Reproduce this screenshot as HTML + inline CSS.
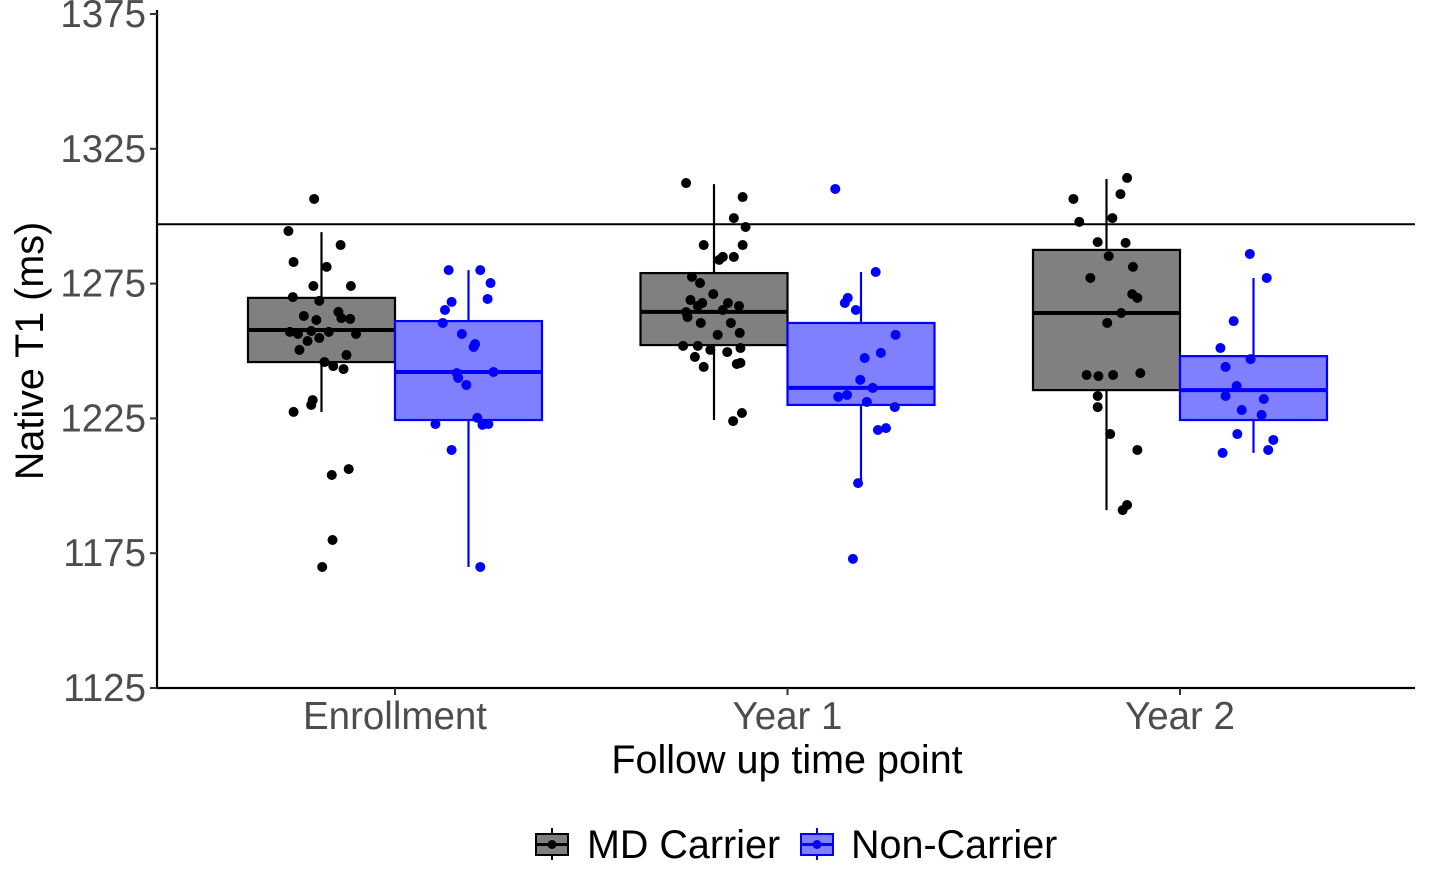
<!DOCTYPE html>
<html><head><meta charset="utf-8">
<style>
html,body{margin:0;padding:0;background:#fff;}
svg{display:block;font-family:"Liberation Sans",Arial,sans-serif;}
</style></head>
<body>
<svg id="chart" width="1430" height="892" viewBox="0 0 1430 892" xmlns="http://www.w3.org/2000/svg"></svg>
<script>
const categories = ["Enrollment","Year 1","Year 2"];
const groups = ["MD Carrier","Non-Carrier"];
const yTicks = [1125,1175,1225,1275,1325,1375];
const refLine = 1297;
// box stats: [lowWhisker, q1, median, q3, highWhisker]
const mdStats = [[1227.4,1245.9,1257.8,1269.7,1294.1],[1224.4,1252.2,1264.5,1278.9,1311.9],[1191,1235.5,1264.1,1287.5,1313.8]];
const ncStats = [[1169.9,1224.4,1242.2,1261.1,1280],[1201,1230,1236.3,1260.4,1279.3],[1212.2,1224.4,1235.5,1248.1,1277.1]];
const mdVals = [
 [1306.4,1294.5,1289.3,1283,1281.2,1274.1,1274.1,1270,1268.6,1264.5,1263,1261.5,1262.2,1261.9,1257.1,1256.3,1257.4,1257.1,1256.3,1253.7,1254.8,1250.4,1248.5,1244.4,1243.3,1245.9,1231.8,1227.4,1230,1206.2,1204,1179.9,1169.9],
 [1312.3,1307.1,1299.3,1296,1289.3,1289.3,1284.9,1284.9,1283.8,1277.5,1275.2,1271.1,1268.9,1266.7,1267.8,1267.8,1266.7,1264.4,1265.2,1260.4,1262.6,1260.4,1256,1256.7,1251.9,1251.9,1251.1,1250.4,1247.8,1249.6,1245.6,1245.2,1244.1,1227,1224],
 [1314.2,1306.4,1308.2,1297.9,1299.3,1290.4,1290.1,1285.2,1277.1,1281.2,1271.1,1269.7,1264.1,1260.4,1241.1,1240.7,1241.1,1241.8,1233.3,1229.2,1219.2,1213.3,1192.9,1191]
];
const mdJit = [
 [-0.1,-0.45,0.26,-0.38,0.07,0.4,-0.11,-0.39,-0.03,0.23,-0.24,-0.07,0.27,0.39,-0.43,-0.32,-0.14,0.1,0.47,-0.19,-0.03,-0.3,0.34,0.16,0.3,0.04,-0.12,-0.38,-0.14,0.37,0.14,0.15,0.01],
 [-0.38,0.39,0.27,0.43,-0.14,0.39,0.27,0.12,0.07,-0.3,-0.19,-0.01,-0.32,0.34,0.19,-0.16,-0.22,-0.38,0.12,0.23,-0.36,-0.18,0.05,0.35,-0.42,-0.22,0.36,-0.05,-0.26,0.18,0.36,0.31,-0.14,0.38,0.26],
 [0.28,-0.45,0.19,-0.37,0.08,-0.12,0.26,0.03,-0.22,0.36,0.35,0.42,0.2,0.01,-0.27,-0.11,0.09,0.46,-0.12,-0.12,0.05,0.42,0.28,0.22]
];
const ncVals = [
 [1280,1280,1275.2,1268.2,1269.3,1265.2,1260.4,1256.3,1251.5,1252.6,1241.8,1242.2,1240,1237.4,1225.2,1222.9,1222.6,1222.9,1213.3,1169.9],
 [1310.1,1279.3,1269.7,1267.8,1265.2,1256,1249.3,1247.4,1239.3,1236.3,1233.7,1233,1231.1,1229.2,1220.7,1221.4,1201,1172.9],
 [1286,1277.1,1261.1,1251.1,1247,1244.1,1237,1233.3,1232.2,1228.1,1226.3,1219.2,1217,1212.2,1213.3]
];
const ncJit = [
 [-0.27,0.16,0.3,-0.23,0.26,-0.32,-0.35,-0.09,0.07,0.09,-0.16,0.34,-0.14,-0.03,0.12,0.27,0.19,-0.45,-0.23,0.16],
 [-0.35,0.2,-0.18,-0.22,-0.07,0.47,0.27,0.05,-0.01,0.16,-0.19,-0.31,0.08,0.46,0.23,0.34,-0.04,-0.11],
 [-0.05,0.18,-0.27,-0.45,-0.04,-0.38,-0.23,-0.38,0.14,-0.16,0.11,-0.22,0.27,-0.42,0.2]
];

const svg = document.getElementById('chart');
const NS = "http://www.w3.org/2000/svg";
const plotL = 157, plotR = 1415, plotT = 14, plotB = 688;
const yMin = 1125, yMax = 1375;
function yS(v){ return plotB - (v - yMin) / (yMax - yMin) * (plotB - plotT); }
function xC(i){ return 395 + i * 392.5; }
const boxW = 147;
function mk(tag, attrs, parent){
  const e = document.createElementNS(NS, tag);
  for (const k in attrs) e.setAttribute(k, attrs[k]);
  (parent || svg).appendChild(e);
  return e;
}

const rl = mk('line', {x1: plotL, x2: plotR, y1: yS(refLine), y2: yS(refLine), stroke: '#000', 'stroke-width': 2});



function drawBox(stats, cx, fill, stroke, name){
  const g = mk('g', {});
  
  
  const [lo, q1, med, q3, hi] = stats;
  mk('line', {x1: cx, x2: cx, y1: yS(hi), y2: yS(q3), stroke: stroke, 'stroke-width': 2.2}, g);
  mk('line', {x1: cx, x2: cx, y1: yS(q1), y2: yS(lo), stroke: stroke, 'stroke-width': 2.2}, g);
  mk('rect', {x: cx - boxW/2, y: yS(q3), width: boxW, height: yS(q1) - yS(q3), fill: fill, stroke: stroke, 'stroke-width': 2.2}, g);
  mk('line', {x1: cx - boxW/2, x2: cx + boxW/2, y1: yS(med), y2: yS(med), stroke: stroke, 'stroke-width': 4}, g);
}
function drawPts(vals, jit, cx, color, name){
  const g = mk('g', {});
  
  
  vals.forEach((v, k) => {
    const c = mk('circle', {cx: cx + jit[k] * boxW / 2, cy: yS(v), r: 5, fill: color}, g);
    
    
  });
}
categories.forEach((c, i) => {
  const mx = xC(i) - boxW/2, nx = xC(i) + boxW/2;
  drawBox(mdStats[i], mx, '#808080', '#000', 'box-md-carrier-' + i);
  drawBox(ncStats[i], nx, '#8080ff', '#0000ff', 'box-non-carrier-' + i);
  drawPts(mdVals[i], mdJit[i], mx, '#000', 'points-md-carrier-' + i);
  drawPts(ncVals[i], ncJit[i], nx, '#0000ff', 'points-non-carrier-' + i);
});

const ya = mk('line', {x1: plotL, x2: plotL, y1: plotT - 4, y2: plotB + 1, stroke: '#000', 'stroke-width': 2.2});


const xa = mk('line', {x1: plotL - 1, x2: plotR, y1: plotB, y2: plotB, stroke: '#000', 'stroke-width': 2.2});



yTicks.forEach(t => {
  const y = yS(t);
  mk('line', {x1: plotL - 7, x2: plotL, y1: y, y2: y, stroke: '#333', 'stroke-width': 2});
  const tx = mk('text', {x: plotL - 11, y: y + 13, 'text-anchor': 'end', 'font-size': 38.5, fill: '#4d4d4d'});
  tx.textContent = t;
  
  
});
categories.forEach((c, i) => {
  const x = xC(i);
  mk('line', {x1: x, x2: x, y1: plotB, y2: plotB + 7, stroke: '#333', 'stroke-width': 2});
  const tx = mk('text', {x: x, y: 729, 'text-anchor': 'middle', 'font-size': 38.5, fill: '#4d4d4d'});
  tx.textContent = c;
  
  
});
const xt = mk('text', {x: 787, y: 773, 'text-anchor': 'middle', 'font-size': 39.5, fill: '#000'});
xt.textContent = 'Follow up time point';


const yt = mk('text', {x: 0, y: 0, 'text-anchor': 'middle', 'font-size': 39.5, fill: '#000', transform: 'translate(43,351) rotate(-90)'});
yt.textContent = 'Native T1 (ms)';



const legendItems = [
  {label: groups[0], x: 535, fill: '#808080', stroke: '#000', tx: 587},
  {label: groups[1], x: 800, fill: '#8080ff', stroke: '#0000ff', tx: 851}
];
legendItems.forEach(it => {
  const g = mk('g', {});
  
  
  mk('line', {x1: it.x + 17, x2: it.x + 17, y1: 828, y2: 860, stroke: it.stroke, 'stroke-width': 2}, g);
  mk('rect', {x: it.x + 1, y: 834, width: 32, height: 21, fill: it.fill, stroke: it.stroke, 'stroke-width': 2}, g);
  mk('line', {x1: it.x + 1, x2: it.x + 33, y1: 844.5, y2: 844.5, stroke: it.stroke, 'stroke-width': 3}, g);
  mk('circle', {cx: it.x + 17, cy: 844.5, r: 4.5, fill: it.stroke}, g);
  const t = mk('text', {x: it.tx, y: 858, 'font-size': 39.5, fill: '#000'}, g);
  t.textContent = it.label;
});
</script>
</body></html>
